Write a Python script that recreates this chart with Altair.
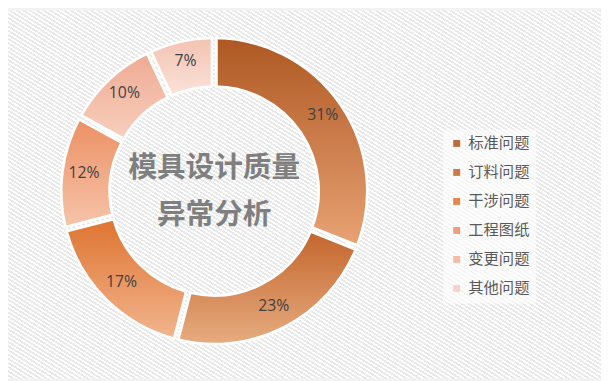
import altair as alt
import pandas as pd

categories = ["标准问题", "订料问题", "干涉问题", "工程图纸", "变更问题", "其他问题"]
values = [31, 23, 17, 12, 10, 7]
legend_colors = ["#C06A36", "#CB7A48", "#E4854C", "#EE9E78", "#F4BCA4", "#F7D2C6"]
grad_top = ["#AE5822", "#C4652C", "#DE7430", "#EC9064", "#EFAA92", "#F3C3B2"]
grad_bottom = ["#E8A274", "#E6AC80", "#F2B58F", "#F6C4AA", "#F7CFBE", "#FAE2D9"]
title_text = "模具设计质量\n异常分析"

df = pd.DataFrame({
    "cat": categories,
    "value": values,
    "order": list(range(len(categories))),
    "label": [f"{v}%" for v in values],
})

W, H = 601, 373
CX, CY = 209, 183
R_OUT, R_IN = 155, 106
theta_scale = alt.Scale(domain=[0, 100], range=[0, 6.283185307])

# hatched background as a striped gradient
n_periods = 175
stops = []
for k in range(n_periods):
    a = k / n_periods
    b = (k + 0.5) / n_periods
    c = (k + 1) / n_periods
    stops += [{"offset": a, "color": "#FFFFFF"}, {"offset": b, "color": "#FFFFFF"},
              {"offset": b, "color": "#E8E8E8"}, {"offset": c, "color": "#E8E8E8"}]
bg_grad = {"gradient": "linear", "x1": 0, "y1": 1, "x2": 1, "y2": 0, "stops": stops}
bg = alt.Chart(pd.DataFrame({"k": [0]})).mark_rect(fill=bg_grad).encode(
    x=alt.value(0), x2=alt.value(W), y=alt.value(0), y2=alt.value(H)
)

base = alt.Chart(df).transform_window(
    cum="sum(value)", sort=[alt.SortField("order")]
).transform_calculate(
    start="datum.cum - datum.value",
    mid="datum.cum - datum.value / 2",
)

arc_kw = dict(innerRadius=R_IN, outerRadius=R_OUT, padAngle=0.025,
              stroke="white", strokeWidth=2.5)

solid = base.mark_arc(**arc_kw).encode(
    theta=alt.Theta("start:Q", scale=theta_scale),
    theta2="cum:Q",
    x=alt.value(CX), y=alt.value(CY),
    color=alt.Color("cat:N", scale=alt.Scale(domain=categories, range=legend_colors),
                    legend=alt.Legend(
                        title=None, orient="none", legendX=441, legendY=121,
                        symbolType="square", symbolSize=49, symbolStrokeWidth=0,
                        labelFontSize=15.5, labelColor="#595959",
                        labelFont="Noto Sans CJK SC", labelOffset=4,
                        rowPadding=12.4, padding=6,
                        fillColor="rgba(255,255,255,0.6)",
                    )),
)

layers = [bg, solid]
for i, c in enumerate(categories):
    grad = {
        "gradient": "linear", "x1": 0, "y1": 0, "x2": 0, "y2": 1,
        "stops": [{"offset": 0, "color": grad_top[i]},
                  {"offset": 1, "color": grad_bottom[i]}],
    }
    layers.append(
        base.transform_filter(alt.datum.cat == c).mark_arc(fill=grad, **arc_kw).encode(
            theta=alt.Theta("start:Q", scale=theta_scale),
            theta2="cum:Q",
            x=alt.value(CX), y=alt.value(CY),
        )
    )

labels = base.mark_text(radius=133, fontSize=16, color="#404040",
                        font="Open Sans").encode(
    theta=alt.Theta("mid:Q", scale=theta_scale),
    x=alt.value(CX), y=alt.value(CY - 2),
    text="label:N",
)
layers.append(labels)

title = alt.Chart(pd.DataFrame({"t": [title_text]})).mark_text(
    fontSize=29, fontWeight="bold", color="#7F7F7F", font="Noto Sans CJK SC",
    lineBreak="\n", lineHeight=47, baseline="middle", align="center",
).encode(x=alt.value(209), y=alt.value(160), text="t:N")
layers.append(title)

chart = alt.layer(*layers).properties(
    width=W, height=H,
    autosize=alt.AutoSizeParams(type="none"),
    padding=0,
    background="#F2F2F2",
).configure_view(stroke=None)

chart.save("out.html", embed_options={"renderer": "svg", "actions": False})
